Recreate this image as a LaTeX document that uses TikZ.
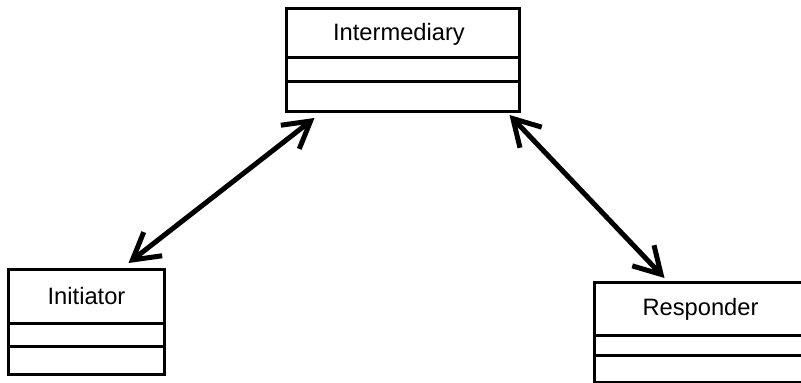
\documentclass[tikz,border=0pt]{standalone}
\usepackage{fontspec}
\setmainfont{Liberation Sans}
\usetikzlibrary{arrows.meta}
\tikzset{
  compartment/.style={draw, line width=3pt, inner sep=0pt, anchor=north west,
    font=\fontsize{23.7}{28}\selectfont},
  assoc/.style={line width=5pt, line cap=round,
    {Straight Barb[length=26pt, width=30pt]}-{Straight Barb[length=26pt, width=30pt]}}
}
\begin{document}
\begin{tikzpicture}[x=1pt, y=-1pt]
  \useasboundingbox (0,0) rectangle (801,383);
  \clip (0,0) rectangle (801,383);
  \fill[white] (0,0) rectangle (801,383);

  % Intermediary class
  \node[compartment, minimum width=233pt, minimum height=49pt, text depth=2pt] (inter) at (285,7) {\hspace*{-8pt}Intermediary};
  \node[compartment, minimum width=233pt, minimum height=24pt] (inter-attr) at (285,56) {};
  \node[compartment, minimum width=233pt, minimum height=30pt] (inter-ops) at (285,80) {};

  % Initiator class
  \node[compartment, minimum width=156pt, minimum height=54pt] (init) at (7,268) {Initiator};
  \node[compartment, minimum width=156pt, minimum height=23pt] (init-attr) at (7,322) {};
  \node[compartment, minimum width=156pt, minimum height=28pt] (init-ops) at (7,345) {};

  % Responder class
  \node[compartment, minimum width=212pt, minimum height=53pt] (resp) at (593,281) {Responder};
  \node[compartment, minimum width=212pt, minimum height=20pt] (resp-attr) at (593,334) {};
  \node[compartment, minimum width=212pt, minimum height=27pt] (resp-ops) at (593,354) {};

  % Bidirectional associations
  \draw[assoc] ([shift={(42,-5)}]init.north) -- ([shift={(-88.5,5)}]inter-ops.south);
  \draw[assoc] ([shift={(106.5,2)}]inter-ops.south) -- ([shift={(-36,-3)}]resp.north);
\end{tikzpicture}
\end{document}
